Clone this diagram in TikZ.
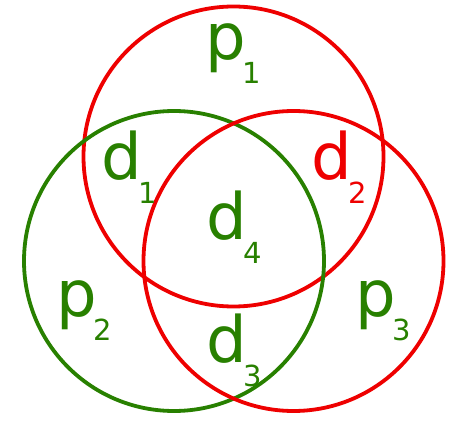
\documentclass[tikz,border=0pt]{standalone}
\usepackage{fontspec}
\setmainfont{DejaVu Sans}

\definecolor{setgreen}{RGB}{40,128,0}
\definecolor{setred}{RGB}{238,0,0}

\tikzstyle{set}=[circle, line width=3.8pt, minimum size=300pt,
                 inner sep=0pt]
\tikzstyle{label}=[inner sep=0pt, anchor=base, text=setgreen]

% letter with a small lowered index
\newcommand{\region}[2]{{\fontsize{64}{64}\selectfont #1}\kern-4pt%
  \raisebox{-24pt}{\fontsize{29}{29}\selectfont #2}}

\begin{document}
\begin{tikzpicture}[x=1pt, y=1pt]
  \useasboundingbox (0, 0) rectangle (463, 426);

  \node (TopSet) at (233.5, 269.5) [set, draw=setred] {};

  \node (LeftSet) at (174, 165) [set, draw=setgreen] {};

  \node (RightSet) at (293.5, 165) [set, draw=setred] {};

  %%%%%%%%%%%%%%%%%%%%%%%%%%%%%%
  % regions
  \node (P1) at (233.5, 366) [label] {\region{p}{1}};
  \node (D1) at (129, 246) [label] {\region{d}{1}};
  \node (D2) at (339, 246) [label, text=setred] {\region{d}{2}};
  \node (D4) at (234.5, 186) [label] {\region{d}{4}};
  \node (P2) at (84, 110) [label] {\region{p}{2}};
  \node (P3) at (383, 110) [label] {\region{p}{3}};
  \node (D3) at (234, 64) [label] {\region{d}{3}};

\end{tikzpicture}
\end{document}
